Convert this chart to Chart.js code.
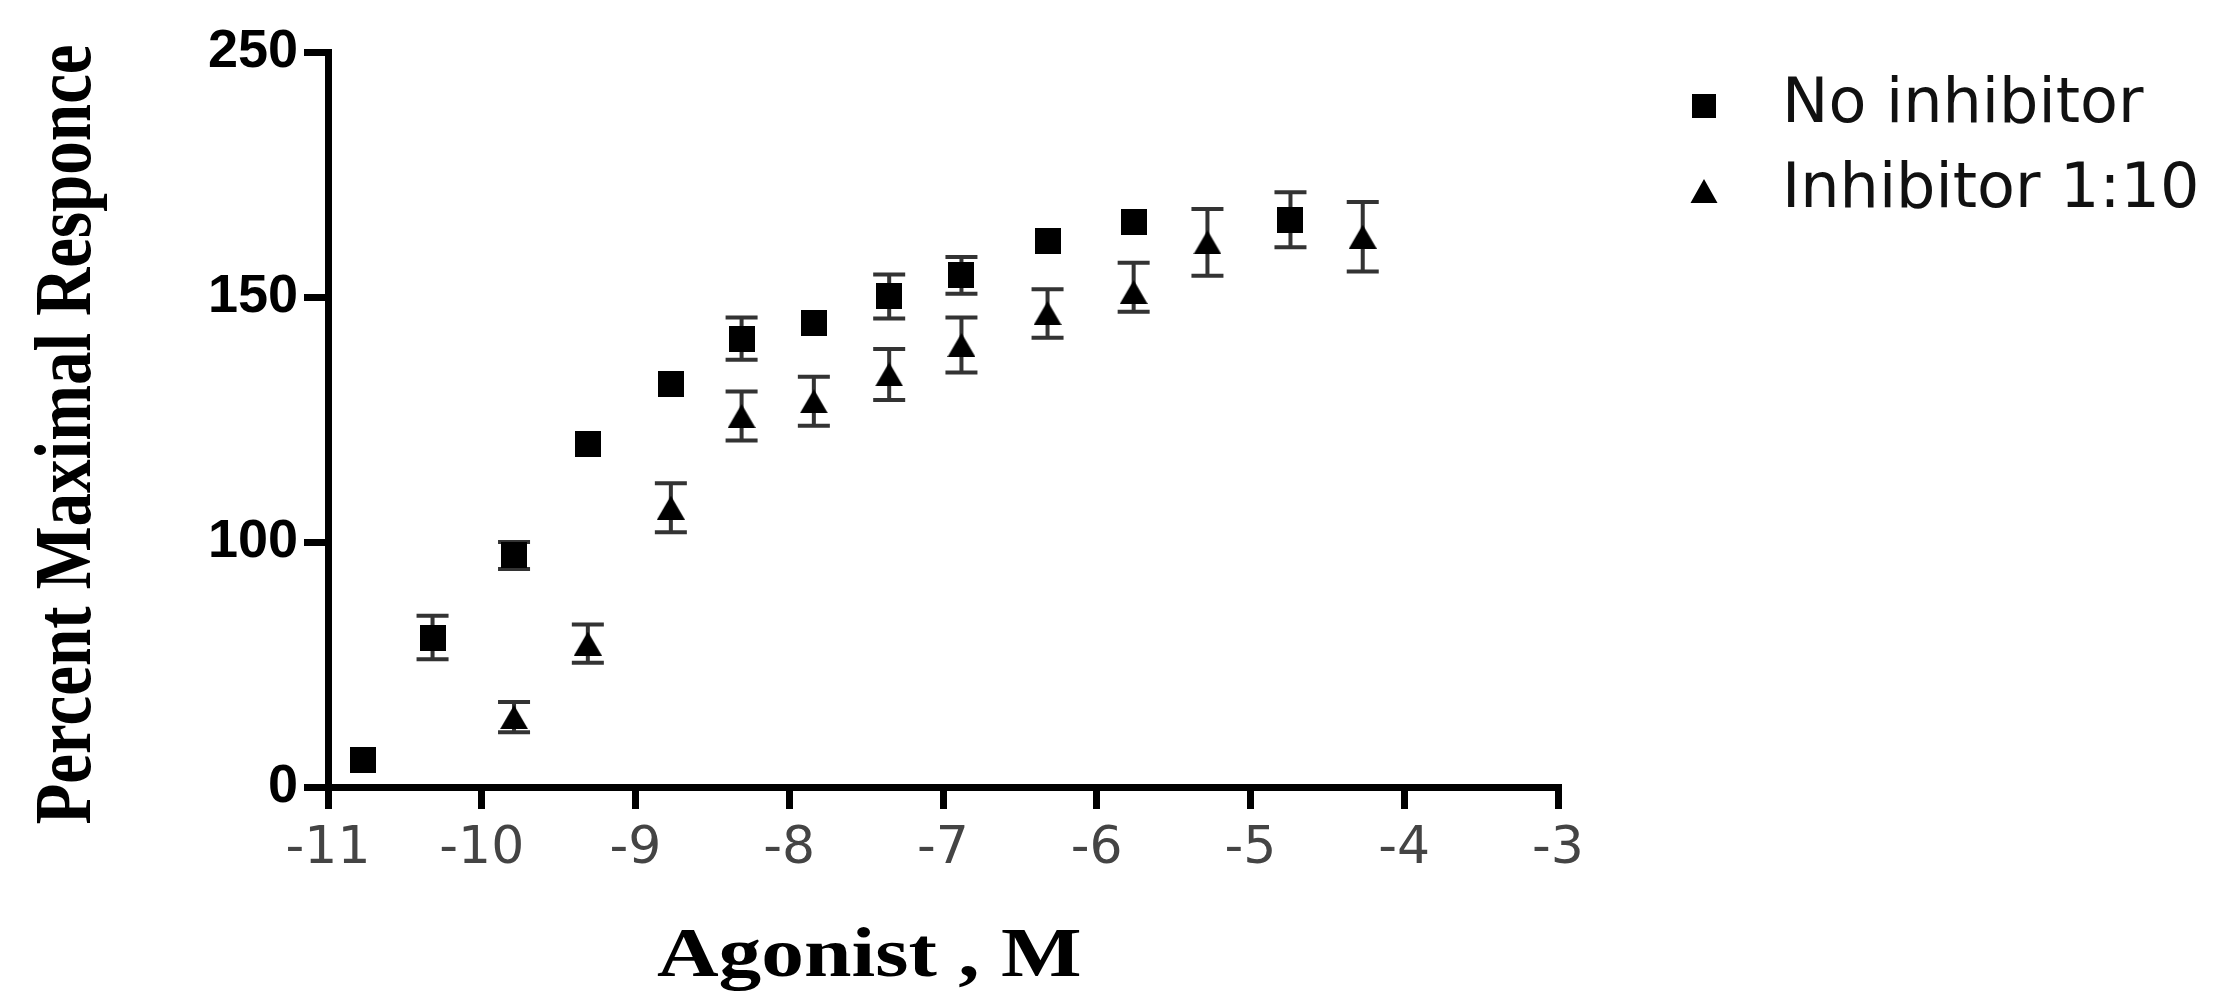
<!DOCTYPE html>
<html>
<head>
<meta charset="utf-8">
<script src="https://cdn.jsdelivr.net/npm/chart.js@4.4.1/dist/chart.umd.min.js"></script>
<style>
  html, body { margin: 0; padding: 0; background: #ffffff; }
  canvas { display: block; }
</style>
</head>
<body>
<canvas id="chart" width="2219" height="1000"></canvas>
<script>
// ---------------- data ----------------
const seriesNames = ['No inhibitor', 'Inhibitor 1:10'];

const xNoInhibitor      = [-10.77, -10.32, -9.79, -9.31, -8.77, -8.31, -7.84, -7.35, -6.88, -6.32, -5.76, -4.74];
const yNoInhibitor      = [11, 61, 94.5, 120, 132.3, 141.5, 144.6, 150.4, 158.8, 173, 180.6, 181.3];
const errUpNoInhibitor  = [0, 8.9, 5.5, 0, 0, 4.3, 0, 8.8, 7.5, 0, 0, 11.5];
const errDnNoInhibitor  = [0, 8.9, 5.5, 0, 0, 4.3, 0, 4.8, 7.5, 0, 0, 11];

const xInhibitor        = [-9.79, -9.31, -8.77, -8.31, -7.84, -7.35, -6.88, -6.32, -5.76, -5.28, -4.27];
const yInhibitor        = [28.5, 58.5, 107, 125.7, 128.7, 134.2, 140.2, 146.7, 152, 172.3, 174.6];
const errUpInhibitor    = [6.2, 7.8, 5, 5, 5, 5.2, 5.6, 6.5, 12, 13.6, 14.2];
const errDnInhibitor    = [6.2, 7.8, 5, 5, 5, 5.2, 5.6, 5, 5, 13.6, 14.2];

const yTickValues = [0, 100, 150, 250];     // tick labels as printed (evenly spaced on the axis)
const xTickMin = -11, xTickMax = -3, xTickStep = 1;

const yAxisTitle = 'Percent Maximal Responce';
const xAxisTitle = 'Agonist , M';

// ---------------- piecewise y scale (ticks evenly spaced) ----------------
class PiecewiseScale extends Chart.LinearScale {
  static id = 'piecewise';
  static defaults = {};
  buildTicks() { return yTickValues.map(v => ({ value: v })); }
  _toDecimal(v) {
    const b = yTickValues, n = b.length - 1;
    for (let i = 0; i < n; i++) {
      if (v <= b[i + 1] || i === n - 1) return (i + (v - b[i]) / (b[i + 1] - b[i])) / n;
    }
    return 1;
  }
  getPixelForValue(v) {
    if (v === null || v === undefined || isNaN(v)) return NaN;
    return this.getPixelForDecimal(this._toDecimal(v));
  }
  getValueForPixel(p) {
    const b = yTickValues, n = b.length - 1;
    const d = this.getDecimalForPixel(p) * n;
    const i = Math.min(Math.max(Math.floor(d), 0), n - 1);
    return b[i] + (d - i) * (b[i + 1] - b[i]);
  }
}
Chart.register(PiecewiseScale);

// ---------------- marker images ----------------
function squareMarker(size, w, offset) {
  const c = document.createElement('canvas');
  c.width = w || size; c.height = size;
  const g = c.getContext('2d');
  g.fillStyle = '#000';
  g.fillRect(c.width / 2 - size / 2 + (offset || 0), 0, size, size);
  return c;
}
function triangleMarker(base, h, w, offset) {
  const c = document.createElement('canvas');
  c.width = w || base; c.height = h;
  const g = c.getContext('2d');
  const cx = c.width / 2 + (offset || 0);
  g.fillStyle = '#000';
  g.beginPath();
  g.moveTo(cx, 0); g.lineTo(cx + base / 2, h); g.lineTo(cx - base / 2, h);
  g.closePath(); g.fill();
  return c;
}
const squarePoint = squareMarker(26);
const trianglePoint = triangleMarker(28, 24);
const legendMarkers = [squareMarker(24, 64, -16), triangleMarker(27, 24, 64, -16)];

// ---------------- plugins ----------------
const errorBarPlugin = {
  id: 'errorBars',
  beforeDatasetsDraw(chart) {
    const ctx = chart.ctx, ys = chart.scales.y;
    chart.data.datasets.forEach((ds, i) => {
      const meta = chart.getDatasetMeta(i);
      meta.data.forEach((pt, j) => {
        const v = ds.data[j].y, up = ds.errUp[j], dn = ds.errDn[j];
        if (!up && !dn) return;
        const x = pt.x;
        const y1 = ys.getPixelForValue(v + up), y2 = ys.getPixelForValue(v - dn);
        ctx.save();
        ctx.strokeStyle = '#333';
        ctx.lineWidth = 4;
        ctx.beginPath();
        ctx.moveTo(x, y1); ctx.lineTo(x, y2);
        ctx.moveTo(x - 16, y1); ctx.lineTo(x + 16, y1);
        ctx.moveTo(x - 16, y2); ctx.lineTo(x + 16, y2);
        ctx.stroke();
        ctx.restore();
      });
    });
  }
};

// axis titles: drawn from the scales' title text, with the reference's horizontal stretch
const axisTitlePlugin = {
  id: 'axisTitles',
  afterDraw(chart) {
    const a = chart.chartArea, ctx = chart.ctx;
    ctx.save();
    ctx.fillStyle = '#000';
    ctx.textAlign = 'center';
    // x title
    ctx.font = 'bold 70px "Liberation Serif"';
    ctx.textBaseline = 'alphabetic';
    ctx.save();
    ctx.translate(a.left + (a.right - a.left) * 0.44, 976);
    ctx.scale(1.22, 1);
    ctx.fillText(chart.options.scales.x.title.text, 0, 0);
    ctx.restore();
    // y title
    ctx.font = 'bold 67px "Liberation Serif"';
    ctx.textBaseline = 'middle';
    ctx.save();
    ctx.translate(69, (a.top + a.bottom) / 2 + 15);
    ctx.scale(1.21, 1);
    ctx.rotate(-Math.PI / 2);
    ctx.fillText(chart.options.scales.y.title.text, 0, 0);
    ctx.restore();
    ctx.restore();
  }
};

// ---------------- chart ----------------
new Chart(document.getElementById('chart'), {
  type: 'scatter',
  data: {
    datasets: [
      {
        label: seriesNames[0],
        data: xNoInhibitor.map((x, i) => ({ x, y: yNoInhibitor[i] })),
        errUp: errUpNoInhibitor, errDn: errDnNoInhibitor,
        pointStyle: squarePoint, pointRadius: 13,
        backgroundColor: '#000', borderColor: '#000', showLine: false
      },
      {
        label: seriesNames[1],
        data: xInhibitor.map((x, i) => ({ x, y: yInhibitor[i] })),
        errUp: errUpInhibitor, errDn: errDnInhibitor,
        pointStyle: trianglePoint, pointRadius: 13,
        backgroundColor: '#000', borderColor: '#000', showLine: false
      }
    ]
  },
  options: {
    responsive: false,
    devicePixelRatio: 1,
    animation: false,
    events: [],
    layout: { padding: { top: 52, left: 0, right: 0, bottom: 0 } },
    scales: {
      x: {
        type: 'linear', position: 'bottom',
        min: xTickMin, max: xTickMax,
        ticks: {
          stepSize: xTickStep, autoSkip: false, maxRotation: 0, padding: 9,
          color: '#444', font: { family: 'DejaVu Sans', size: 52 },
          callback: v => String(v)
        },
        grid: { display: true, drawOnChartArea: false, drawTicks: true, tickLength: 22, tickWidth: 7, tickColor: '#000', lineWidth: 7, color: '#000' },
        border: { display: true, width: 7, color: '#000' },
        title: { display: false, text: xAxisTitle },
        afterFit: s => { s.height = 213; s.paddingRight = 661; }
      },
      y: {
        type: 'piecewise', position: 'left',
        min: 0, max: 250,
        ticks: {
          autoSkip: false, padding: 6,
          color: '#000', font: { family: 'Liberation Sans', size: 54, weight: 'bold' },
          callback: v => String(v)
        },
        grid: { display: true, drawOnChartArea: false, drawTicks: true, tickLength: 24, tickWidth: 7, tickColor: '#000', lineWidth: 7, color: '#000' },
        border: { display: true, width: 7, color: '#000' },
        title: { display: false, text: yAxisTitle },
        afterFit: s => { s.width = 328; }
      },
      spacer: {
        type: 'linear', position: 'right', display: true,
        grid: { display: false, drawTicks: false },
        border: { display: false },
        ticks: { display: false },
        afterFit: s => { s.width = 108; }
      }
    },
    plugins: {
      tooltip: { enabled: false },
      legend: {
        display: true, position: 'right', align: 'start', maxWidth: 640,
        labels: {
          usePointStyle: true, boxWidth: 62, boxHeight: 24, padding: 23,
          color: '#111', font: { family: 'DejaVu Sans', size: 62 },
          generateLabels: chart => Chart.defaults.plugins.legend.labels.generateLabels(chart)
            .map((l, i) => Object.assign(l, { pointStyle: legendMarkers[i] }))
        }
      }
    }
  },
  plugins: [errorBarPlugin, axisTitlePlugin]
});
</script>
</body>
</html>
